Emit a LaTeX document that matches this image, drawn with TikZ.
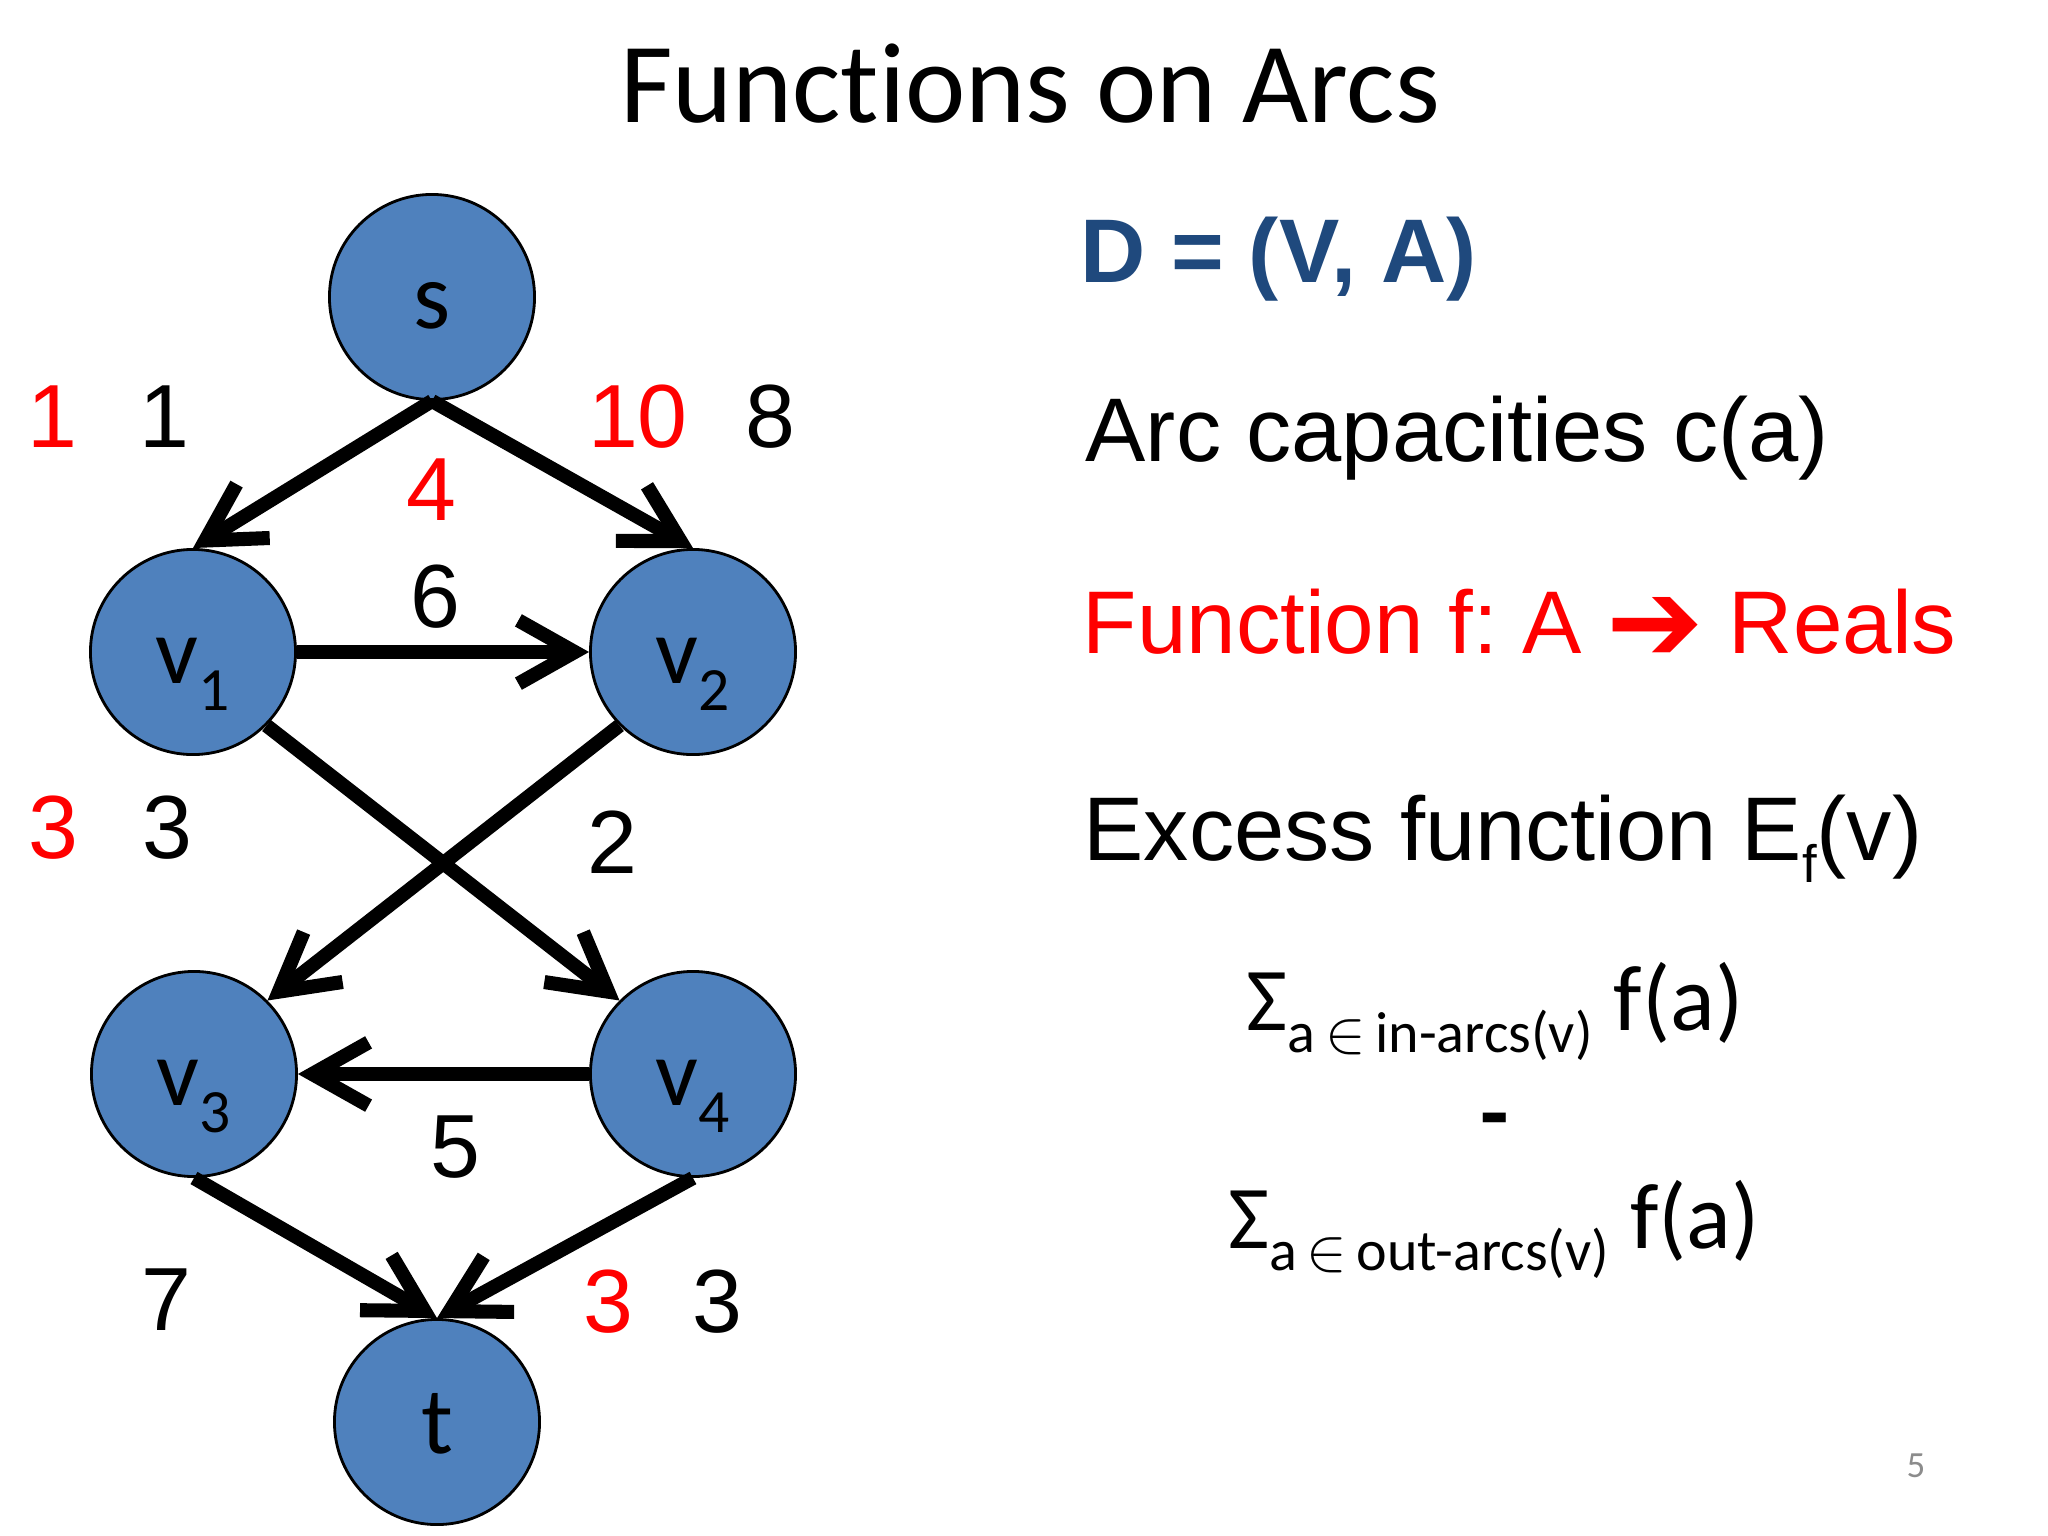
\documentclass[tikz,border=0pt]{standalone}
\usepackage{fontspec}
\setmainfont{Carlito}[Ligatures=NoCommon]
\newfontfamily\arialfont{Liberation Sans}
\newfontfamily\symfont{DejaVu Sans}
\usetikzlibrary{arrows.meta}
\definecolor{nodeblue}{HTML}{4F81BD}
\definecolor{darkblue}{HTML}{1F497D}
\definecolor{pagegray}{HTML}{8C8C8C}
\newcommand{\vsub}[1]{\raisebox{-0.28em}{\fontsize{17.5}{17.5}\selectfont #1}}
\frenchspacing

\begin{document}
\begin{tikzpicture}[x=0.01cm,y=-0.01cm,
        vertex/.style={circle,fill=nodeblue,draw=black,line width=0.8pt,minimum size=2.05cm,inner sep=0pt,
            font=\fontsize{27}{32}\selectfont,text height=24pt,text depth=6pt},
        arc/.style={line width=4pt,-{Straight Barb[length=16pt,width=18pt]}},
        caplab/.style={inner sep=0pt,font=\arialfont\fontsize{25.5}{31}\selectfont},
        flowlab/.style={caplab,text=red},
        sidetext/.style={anchor=base west,inner sep=0pt,font=\arialfont\fontsize{25.7}{31}\selectfont},
        sumtext/.style={anchor=base,inner sep=0pt,font=\fontsize{26.5}{32}\selectfont}]
    \useasboundingbox (0,0) rectangle (2048,1536);
    % title
    \node[anchor=base,inner sep=0pt,font=\fontsize{32.5}{39}\selectfont] (title) at (1030,122) {Functions on Arcs};
    % vertices
    \node[vertex] (s) at (432,297) {s};
    \node[vertex] (v1) at (193,652) {v\vsub{1}};
    \node[vertex] (v2) at (693,652) {v\vsub{2}};
    \node[vertex] (v3) at (194,1074) {v\vsub{3}};
    \node[vertex] (v4) at (693,1074) {v\vsub{4}};
    \node[vertex] (t) at (437,1422) {t};
    % arcs
    \draw[arc] (s.south) -- (v1.north);
    \draw[arc] (s.south) -- (v2.north);
    \draw[arc] (v1.east) -- (v2.west);
    \draw[arc] (v1.south east) -- (v4.north west);
    \draw[arc] (v2.south west) -- (v3.north east);
    \draw[arc] (v4.west) -- (v3.east);
    \draw[arc] (v3.south) -- (t.north);
    \draw[arc] (v4.south) -- (t.north);
    % flow values and capacities
    \node[flowlab] (f1) at (52,417) {1};
    \node[caplab] (c1) at (164,417) {1};
    \node[flowlab] (f2) at (638,417) {10};
    \node[caplab] (c2) at (770,417) {8};
    \node[flowlab] (f3) at (431,490) {4};
    \node[caplab] (c3) at (435,597) {6};
    \node[flowlab] (f4) at (53,828) {3};
    \node[caplab] (c4) at (167,828) {3};
    \node[caplab] (c5) at (612,842) {2};
    \node[caplab] (c6) at (455,1147) {5};
    \node[caplab] (c7) at (166,1300) {7};
    \node[flowlab] (f8) at (608,1302) {3};
    \node[caplab] (c8) at (717,1302) {3};
    % right side
    \node[sidetext,font=\arialfont\bfseries\fontsize{25.7}{30}\selectfont,text=darkblue] (graph) at (1080,282) {D = (V, A)};
    \node[sidetext] (capacity) at (1085,461) {Arc capacities c(a)};
    \node[sidetext,text=red,font=\arialfont\fontsize{25.3}{31}\selectfont] (func) at (1082,653) {Function f: A \raisebox{-2.5pt}{\symfont\fontsize{33}{33}\selectfont ➔} Reals};
    \node[sidetext] (excess) at (1083,860) {Excess function E\raisebox{-6.3pt}{\fontsize{15}{15}\selectfont f}(v)};
    \node[sumtext] (insum) at (1495,1030) {{\fontsize{25.5}{30}\selectfont Σ}\raisebox{-6.3pt}{\fontsize{16.5}{20}\selectfont a\thinspace$\in$\thinspace in-arcs(v)} f(a)};
    \node[sumtext,font=\bfseries\fontsize{26.5}{32}\selectfont] (minus) at (1495,1144) {-};
    \node[sumtext] (outsum) at (1494,1248) {{\fontsize{25.5}{30}\selectfont Σ}\raisebox{-6.3pt}{\fontsize{16.5}{20}\selectfont a\thinspace$\in$\thinspace out-arcs(v)} f(a)};
    % page number
    \node[inner sep=0pt,text=pagegray,font=\fontsize{10.5}{12}\selectfont] (page) at (1916,1466) {5};
\end{tikzpicture}
\end{document}
